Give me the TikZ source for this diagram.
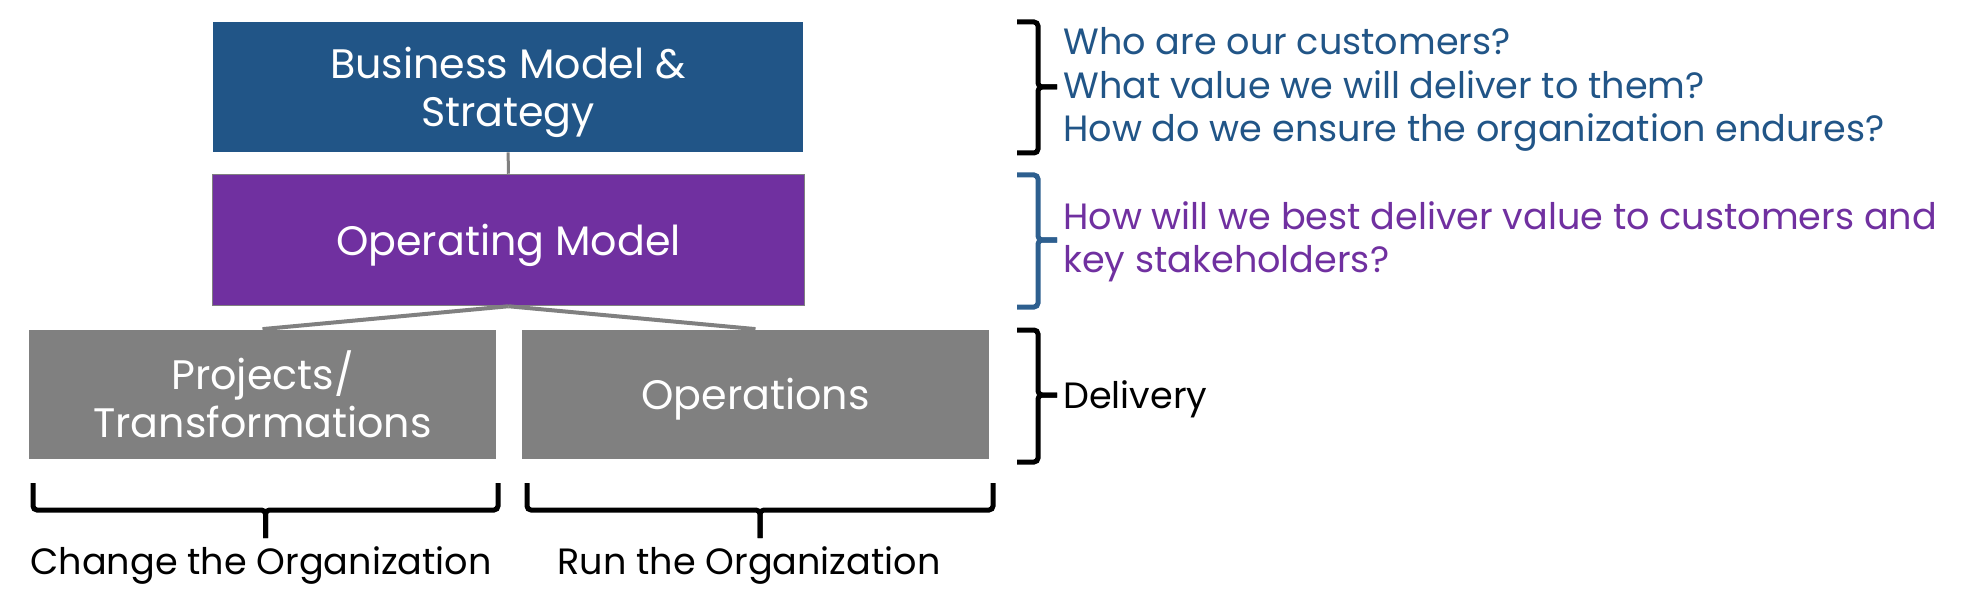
\documentclass[tikz,border=0pt]{standalone}
\usepackage{fontspec}
\setmainfont{Poppins}
\usepackage{xcolor}
\definecolor{bmblue}{HTML}{215587}
\definecolor{ompurple}{HTML}{7030A0}
\definecolor{delgray}{HTML}{808080}
\definecolor{braceblue}{HTML}{2D5F8F}

\begin{document}
\begin{tikzpicture}[x=0.5pt,y=-0.5pt]
  \tikzstyle{block}=[rectangle, inner sep=0pt, text=white, align=center, text depth=0pt, font=\fontsize{20.6}{24}\selectfont]
  \tikzstyle{link}=[delgray, line width=2pt]
  \tikzstyle{bracket}=[line width=2.5pt, rounded corners=2pt]
  \tikzstyle{note}=[anchor=base west, inner sep=0pt, font=\fontsize{18.3}{22}\selectfont]
  \useasboundingbox (0,0) rectangle (1984,609);
  \node[block, fill=bmblue, minimum width=295pt, minimum height=65pt] (bms) at (508,87) {Business Model \&\\Strategy};
  \node[block, fill=ompurple, draw=delgray, line width=0.75pt, minimum width=296pt, minimum height=65.5pt] (opm) at (508.5,240) {Operating Model};
  \node[block, fill=delgray, minimum width=233.5pt, minimum height=64.5pt] (proj) at (262.5,394) {Projects/\\Transformations};
  \node[block, fill=delgray, minimum width=233.5pt, minimum height=64.5pt] (ops) at (755.5,394) {Operations};
  \draw[link, line width=1.5pt] (bms) -- (opm);
  \foreach \x in {proj,ops} {
    \draw[link] (opm.south) -- (\x.north);
  }
  \foreach \txt [count=\i] in {Who are our customers?, What value we will deliver to them?, How do we ensure the organization endures?} {
    \node[note, text=bmblue] (who\i) at (1063,{11.5+43.5*\i}) {\txt};
  }
  \foreach \txt [count=\i] in {How will we best deliver value to customers and, key stakeholders?} {
    \node[note, text=ompurple] (how\i) at (1063,{185.5+43.5*\i}) {\txt};
  }
  \node[note] (deliv) at (1063,408) {Delivery};
  \foreach \top/\mid/\bot/\col in {22/87/153/black, 175/240/307/braceblue, 330/395/462/black} {
    \draw[bracket, \col] (1017,\top) -| (1038,\mid) -- (1057,\mid);
    \draw[bracket, \col] (1017,\bot) -| (1038,\mid) -- (1057,\mid);
  }
  \foreach \l/\r/\c/\lx/\txt/\name in {33/498/265.5/261/Change the Organization/chg, 527/993/760/749/Run the Organization/run} {
    \draw[bracket] (\l,483) |- (\c,510) -- (\c,538);
    \draw[bracket] (\r,483) |- (\c,510) -- (\c,538);
    \node[note, anchor=base] (\name) at (\lx,574) {\txt};
  }
  % \draw[link] (ops.east) -- (deliv.west);
\end{tikzpicture}
\end{document}
